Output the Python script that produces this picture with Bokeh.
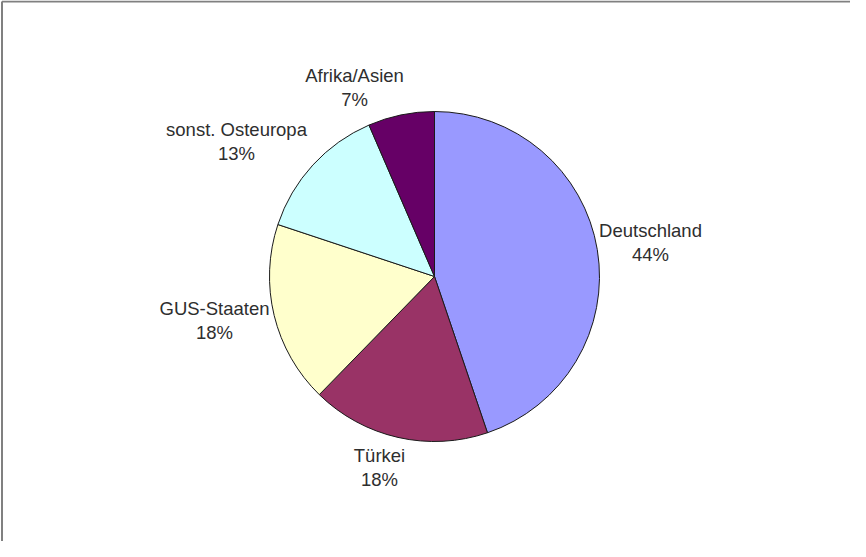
import math
from bokeh.plotting import figure
from bokeh.models import Range1d, ColumnDataSource
from bokeh.core.properties import value
from bokeh.embed import file_html
from bokeh.resources import INLINE

# ---- data ----
categories = ["Deutschland", "Türkei", "GUS-Staaten", "sonst. Osteuropa", "Afrika/Asien"]
shares = [44.8, 17.5, 17.8, 13.4, 6.5]          # slice sizes as measured from the geometry
pct_labels = ["44%", "18%", "18%", "13%", "7%"]  # labels as printed on the chart
colors = ["#9999FF", "#993366", "#FFFFCC", "#CCFFFF", "#660066"]

# ---- layout constants (page pixels -> data units 1:1) ----
W, H = 850, 541
CX, CY, R = 434, 265, 165
# label centres (x, y of the two-line block) in data units
label_x = [650, 379, 214, 236, 354]
label_y = [299, 74, 221, 400, 454]
LINE_GAP = 12

total = sum(shares)
starts, ends = [], []
cum = 0.0
for s in shares:
    a0 = math.radians(90 - cum / total * 360)
    cum += s
    a1 = math.radians(90 - cum / total * 360)
    starts.append(a0)
    ends.append(a1)

src = ColumnDataSource(dict(cat=categories, start=starts, end=ends, color=colors,
                            pct=pct_labels, lx=label_x,
                            ly1=[y + LINE_GAP for y in label_y],
                            ly2=[y - LINE_GAP for y in label_y]))

p = figure(width=W, height=H, output_backend="svg", toolbar_location=None,
           x_range=Range1d(0, W), y_range=Range1d(0, H),
           min_border=0, min_border_left=0, min_border_right=0,
           min_border_top=0, min_border_bottom=0)
p.xaxis.visible = False
p.yaxis.visible = False
p.grid.visible = False
p.outline_line_color = None
p.background_fill_color = "white"
p.border_fill_color = "white"

p.wedge(x=CX, y=CY, radius=R, start_angle="start", end_angle="end",
        direction="clock", fill_color="color", line_color="#1a1a1a",
        line_width=1, source=src)

font = value("Liberation Sans")
p.text(x="lx", y="ly1", text="cat", source=src, text_font=font,
       text_font_size="18.5px", text_color="#2e2e2e",
       text_align="center", text_baseline="middle")
p.text(x="lx", y="ly2", text="pct", source=src, text_font=font,
       text_font_size="18.5px", text_color="#2e2e2e",
       text_align="center", text_baseline="middle")

# frame lines (top and left edges of the original chart area)
p.line(x=[1.5, W], y=[H - 1, H - 1], line_color="#808080", line_width=2)
p.line(x=[1.5, 1.5], y=[0, H - 1], line_color="#808080", line_width=2)

open("out.html", "w").write(file_html(p, INLINE))
